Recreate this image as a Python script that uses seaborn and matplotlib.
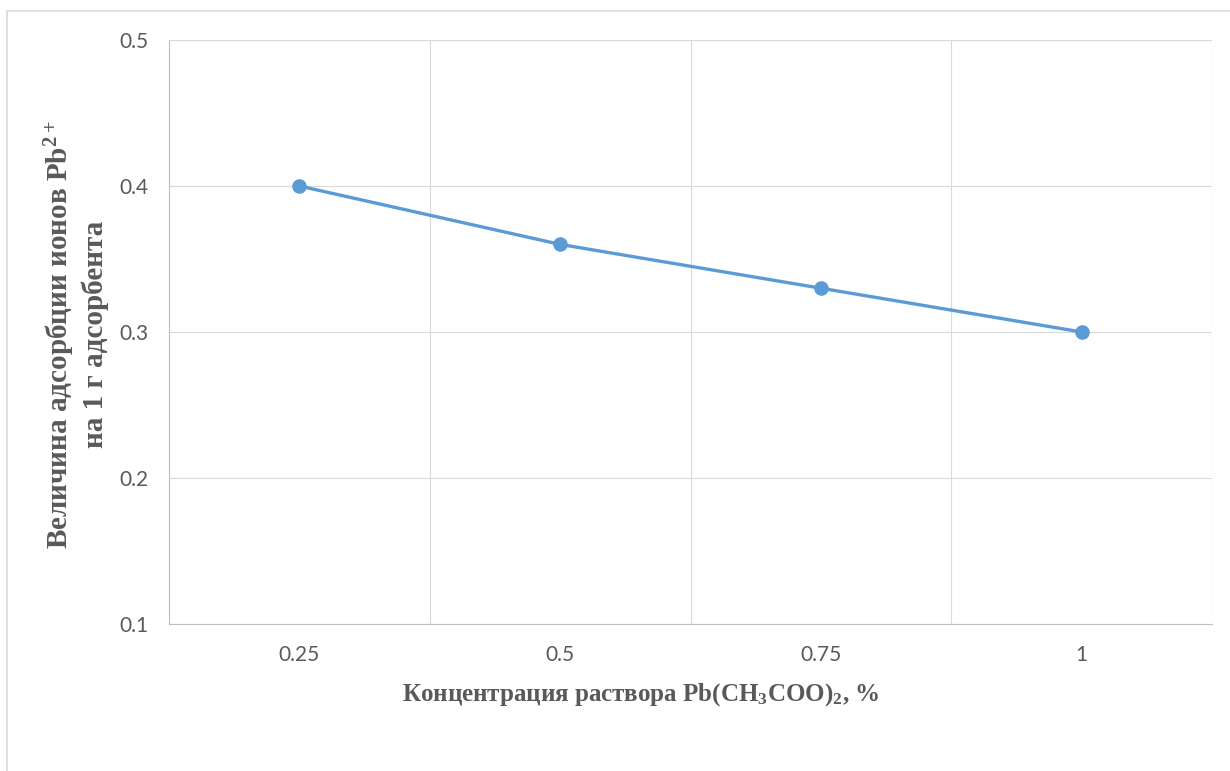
import numpy as np
import pandas as pd
import seaborn as sns
import matplotlib
matplotlib.use("Agg")
import matplotlib.pyplot as plt
from matplotlib.lines import Line2D

# -------------------- data --------------------
concentrations = ["0.25", "0.5", "0.75", "1"]
adsorption = [0.40, 0.36, 0.33, 0.30]
y_ticks = [0.1, 0.2, 0.3, 0.4, 0.5]

df = pd.DataFrame({"conc": concentrations, "ads": adsorption})

# -------------------- style --------------------
sns.set_theme(style="white")
plt.rcParams["font.family"] = ["Lato", "DejaVu Sans"]
plt.rcParams["mathtext.default"] = "regular"

line_color = "#5B9BD5"
grid_color = "#D9D9D9"
text_color = "#595959"

fig = plt.figure(figsize=(12.3, 7.71), dpi=100)
ax = fig.add_axes([169 / 1230, 1 - 624 / 771, (1212 - 169) / 1230, (624 - 40) / 771])

sns.lineplot(data=df, x="conc", y="ads", ax=ax, color=line_color,
             linewidth=2.4, marker="o", markersize=10.5, markeredgewidth=0,
             sort=False)

ax.set_xlim(-0.5, len(concentrations) - 0.5)
ax.set_ylim(0.1, 0.5)
ax.set_yticks(y_ticks)
ax.set_yticklabels([f"{t:g}" for t in y_ticks])

# Excel-style gridlines: vertical between categories
ax.set_xticks(np.arange(len(concentrations) + 1) - 0.5, minor=True)
ax.grid(False)
ax.grid(which="minor", axis="x", color=grid_color, linewidth=0.8)
ax.grid(which="major", axis="y", color=grid_color, linewidth=0.8)
ax.set_axisbelow(True)

for side in ["top", "right"]:
    ax.spines[side].set_visible(False)
ax.spines["left"].set_color("#BFBFBF")
ax.spines["bottom"].set_color("#BFBFBF")
ax.spines["left"].set_linewidth(0.8)
ax.spines["bottom"].set_linewidth(0.8)

ax.tick_params(axis="both", which="both", length=0, pad=15,
               labelsize=15, labelcolor=text_color)
ax.set_xlabel("")
ax.set_ylabel("")

serif = ["Liberation Serif", "DejaVu Serif"]
fig.text(641 / 1230, 1 - 695 / 771,
         "Концентрация раствора Pb(CH$_3$COO)$_2$, %",
         ha="center", va="center", fontsize=18, fontweight="bold",
         color=text_color, family=serif)
fig.text(76 / 1230, 1 - 334 / 771,
         "Величина адсорбции ионов Pb$^{2+}$\nна 1 г адсорбента",
         ha="center", va="center", rotation=90, fontsize=21,
         fontweight="bold", color=text_color, family=serif,
         linespacing=1.22, multialignment="center")

# outer chart frame
fig.add_artist(Line2D([7 / 1230, 7 / 1230], [0, 1 - 11 / 771],
                      transform=fig.transFigure, color=grid_color, linewidth=1.2))
fig.add_artist(Line2D([7 / 1230, 1], [1 - 11 / 771, 1 - 11 / 771],
                      transform=fig.transFigure, color=grid_color, linewidth=1.2))

fig.savefig("out.png", dpi=100)
